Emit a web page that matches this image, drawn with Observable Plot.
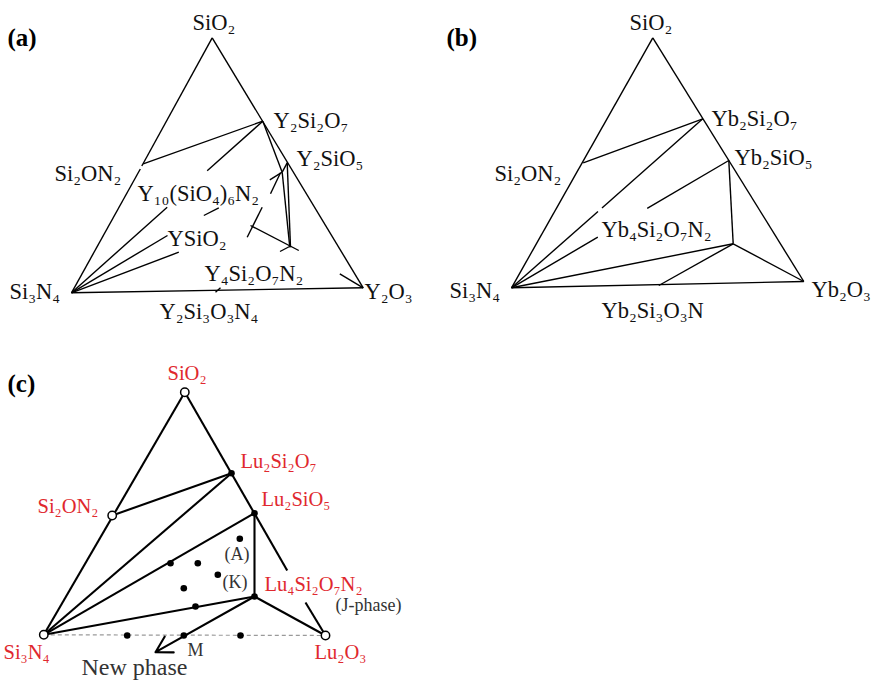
<!DOCTYPE html>
<html>
<head>
<meta charset="utf-8">
<script src="https://cdn.jsdelivr.net/npm/d3@7"></script>
<script src="https://cdn.jsdelivr.net/npm/@observablehq/plot@0.6"></script>
<style>
  html, body { margin: 0; padding: 0; background: #fff; }
  #chart svg { display: block; }
</style>
</head>
<body>
<div id="chart"></div>
<script>
// ---------- Panel (a): Si3N4–SiO2–Y2O3 (diagram coordinates) ----------
const tieLinesA = [
  [211.7, 37.3, 141.3, 165.5],   // SiO2 – Si2ON2 (edge)
  [139.8, 168.5, 71, 292.3],     // Si2ON2 – Si3N4 (edge)
  [211.7, 37.3, 362.7, 287.3],   // SiO2 – Y2O3 (edge)
  [71, 292.3, 362.7, 287.3],     // Si3N4 – Y2O3 (edge)
  [142.7, 163.3, 262.3, 120.7],  // Si2ON2 – Y2Si2O7
  [71, 292.3, 166.7, 206.7],     // Si3N4 – Y2Si2O7
  [206.7, 170.3, 262.3, 120.7],
  [71, 292.3, 167, 235],         // Si3N4 – Y10(SiO4)6N2
  [203.3, 215, 218.3, 207.3],
  [269.3, 179.3, 281.7, 171.7],
  [71, 292.3, 178.3, 251.7],     // Si3N4 – YSiO2N
  [280, 172.3, 270, 193.3],      // Y10(SiO4)6N2 – YSiO2N
  [261.7, 206.7, 246.7, 236.7],
  [250, 225, 298.3, 250],        // YSiO2N – Y4Si2O7N2
  [262.3, 120.7, 281.7, 171.7],  // Y2Si2O7 – Y10(SiO4)6N2
  [281.7, 171.7, 289.3, 246.7],  // Y10(SiO4)6N2 – Y4Si2O7N2
  [286.7, 162.3, 290, 246.7],    // Y2SiO5 – Y4Si2O7N2
  [286.7, 162.3, 281.7, 171.7],  // Y2SiO5 – Y10(SiO4)6N2
  [279.5, 251, 290, 245.5],
  [339.3, 273.3, 362.7, 287.3],  // Y4Si2O7N2 – Y2O3
  [215, 291.7, 220, 287.3]       // Y2Si3O3N4 mark
];
const labelsA = [
  ["SiO₂", 192, 22],
  ["Y₂Si₂O₇", 273, 120],
  ["Y₂SiO₅", 296, 158],
  ["Si₂ON₂", 54, 173],
  ["Y₁₀(SiO₄)₆N₂", 137, 193],
  ["YSiO₂", 167, 238],
  ["Y₄Si₂O₇N₂", 204, 273],
  ["Si₃N₄", 9, 291],
  ["Y₂O₃", 364, 291],
  ["Y₂Si₃O₃N₄", 159, 311]
];

// ---------- Panel (b): Si3N4–SiO2–Yb2O3 ----------
const tieLinesB = [
  [652.3, 37.3, 511, 287.3],     // edges
  [652.3, 37.3, 803.3, 281],
  [511, 287.3, 803.3, 281],
  [582.7, 162.3, 702.3, 118.3],  // Si2ON2 – Yb2Si2O7
  [511, 287.3, 597.5, 210.9],    // Si3N4 – Yb2Si2O7
  [601.5, 207.4, 702.3, 118.3],
  [511, 287.3, 597.3, 236.7],    // Si3N4 – Yb2SiO5
  [646.7, 207.8, 728.3, 160],
  [511, 287.3, 732.7, 243.3],    // Si3N4 – Yb4Si2O7N2
  [728.3, 160, 732.7, 243.3],    // Yb2SiO5 – Yb4Si2O7N2
  [732.7, 243.3, 803.3, 281],    // Yb4Si2O7N2 – Yb2O3
  [732.7, 243.3, 658.3, 285]     // Yb4Si2O7N2 – Yb2Si3O3N
];
const labelsB = [
  ["SiO₂", 629, 22],
  ["Yb₂Si₂O₇", 711, 118],
  ["Yb₂SiO₅", 734, 157],
  ["Si₂ON₂", 494, 173],
  ["Yb₄Si₂O₇N₂", 601, 229],
  ["Si₃N₄", 449, 290],
  ["Yb₂O₃", 811, 289],
  ["Yb₂Si₃O₃N", 601, 310]
];

// ---------- Panel (c): Si3N4–SiO2–Lu2O3 ----------
const tieLinesC = [
  [184.3, 391.7, 43.3, 634.3],   // SiO2 – Si3N4
  [184.3, 391.7, 286.7, 570],    // SiO2 – Lu2O3 (upper part)
  [305, 602, 325, 635],          // SiO2 – Lu2O3 (lower part)
  [111.7, 515, 231, 472.7],      // Si2ON2 – Lu2Si2O7
  [43.3, 634.3, 231, 472.7],     // Si3N4 – Lu2Si2O7
  [43.3, 634.3, 254, 512.7],     // Si3N4 – Lu2SiO5
  [254, 512.7, 254, 596],        // Lu2SiO5 – J
  [43.3, 634.3, 254, 596],       // Si3N4 – J
  [254, 596, 325, 635]           // J – Lu2O3
];
const joinC = [[43.3, 634.3, 325, 635]];        // Si3N4 – Lu2O3 (dashed)
const newPhaseArrow = [[254, 596, 155, 651.7]];
const endMembersC = [[184.3, 391.7], [43.3, 634.3], [325, 635], [111.7, 515]];
const phasesC = [[231, 472.7], [254, 512.7], [254, 596]];
const samplesC = [
  [170, 562.7], [197.3, 562.7], [239.3, 538.3], [217.3, 574.3], [183.3, 587.7],
  [195, 606], [126.7, 635], [183.3, 635], [240, 635]
];
const redLabelsC = [
  ["SiO₂", 167, 373],
  ["Lu₂Si₂O₇", 240, 461],
  ["Lu₂SiO₅", 261, 499],
  ["Si₂ON₂", 37, 506],
  ["Lu₄Si₂O₇N₂", 264, 584],
  ["Si₃N₄", 3, 652],
  ["Lu₂O₃", 314, 652]
];
const noteLabelsC = [
  ["(A)", 224, 554],
  ["(K)", 222, 582],
  ["(J-phase)", 335, 605],
  ["M", 187, 650]
];
const newPhaseLabel = [["New phase", 81, 667]];
const panelTags = [["(a)", 7, 37], ["(b)", 446, 37], ["(c)", 7, 383]];

// ---------- drawing ----------
const serif = "'Liberation Serif', 'DejaVu Serif', serif";
const seg = {x1: d => d[0], y1: d => d[1], x2: d => d[2], y2: d => d[3]};
const lab = {x: d => d[1], y: d => d[2], text: d => d[0], textAnchor: "start", fontFamily: serif};

const chart = Plot.plot({
  width: 874,
  height: 682,
  margin: 0,
  x: {domain: [0, 874], range: [0, 874], axis: null},
  y: {domain: [0, 682], range: [0, 682], axis: null},
  style: {background: "#fff"},
  marks: [
    Plot.link(tieLinesA, {...seg, stroke: "#000", strokeWidth: 1.4}),
    Plot.link(tieLinesB, {...seg, stroke: "#000", strokeWidth: 1.4}),
    Plot.text(labelsA, {...lab, fontSize: 22.5, fill: "#111"}),
    Plot.text(labelsB, {...lab, fontSize: 22.5, fill: "#111"}),

    Plot.link(joinC, {...seg, stroke: "#9a9a9a", strokeWidth: 1.2, strokeDasharray: "4,3"}),
    Plot.link(tieLinesC, {...seg, stroke: "#000", strokeWidth: 2.1}),
    Plot.arrow(newPhaseArrow, {...seg, stroke: "#000", strokeWidth: 2.1, headLength: 13, bend: false}),
    Plot.dot(samplesC, {x: d => d[0], y: d => d[1], r: 3.3, fill: "#000", stroke: null}),
    Plot.dot(phasesC, {x: d => d[0], y: d => d[1], r: 3.3, fill: "#000", stroke: null}),
    Plot.dot(endMembersC, {x: d => d[0], y: d => d[1], r: 4.2, fill: "#fff", stroke: "#000", strokeWidth: 1.5}),
    Plot.text(redLabelsC, {...lab, fontSize: 20.5, fill: "#e0282e"}),
    Plot.text(noteLabelsC, {...lab, fontSize: 18, fill: "#333"}),
    Plot.text(newPhaseLabel, {...lab, fontSize: 24, fill: "#333"}),

    Plot.text(panelTags, {...lab, fontSize: 25, fontWeight: "bold", fill: "#000"})
  ]
});
document.getElementById("chart").appendChild(chart);
</script>
</body>
</html>
